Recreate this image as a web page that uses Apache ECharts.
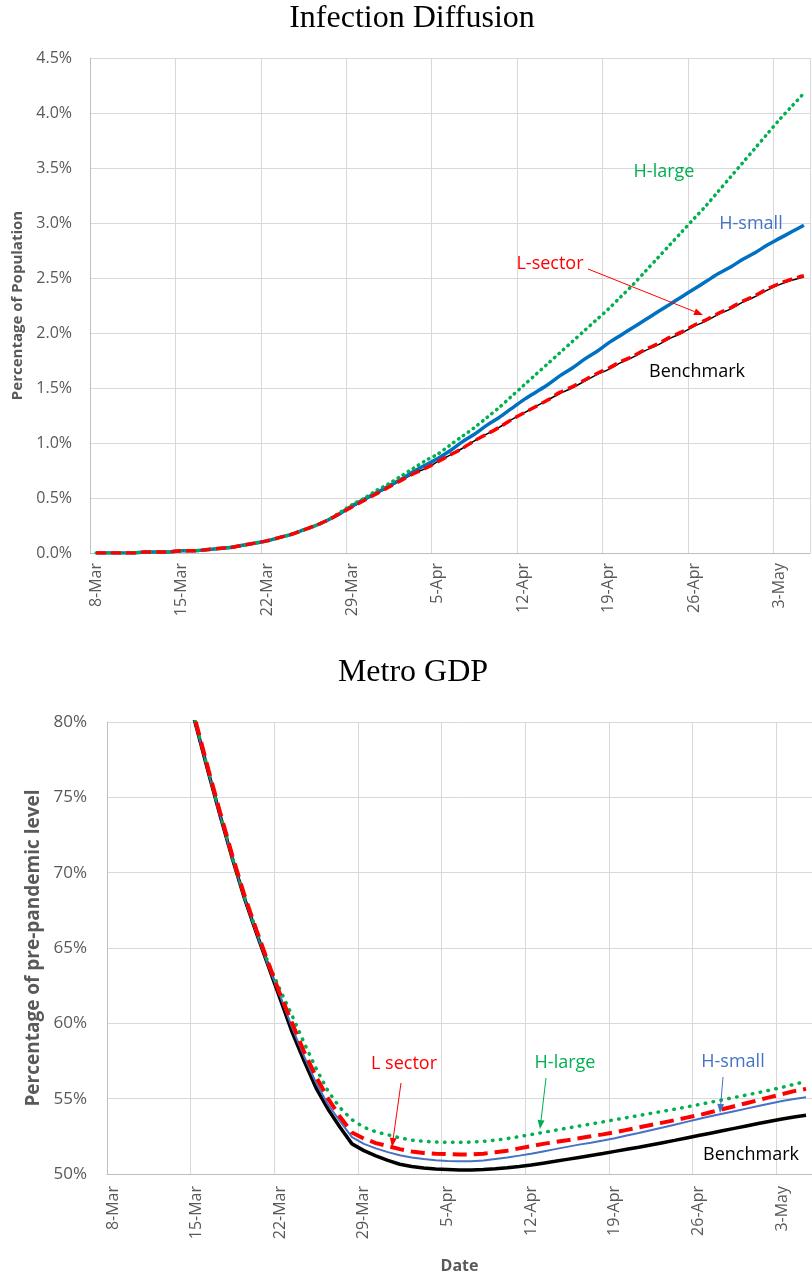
<!DOCTYPE html>
<html>
<head>
<meta charset="utf-8">
<script src="https://cdn.jsdelivr.net/npm/echarts@6.0.0/dist/echarts.min.js"></script>
<style>
  html, body { margin: 0; padding: 0; background: #fff; }
  #chart { width: 812px; height: 1279px; }
</style>
</head>
<body>
<div id="chart"></div>
<script>
// categories: one per day, 8-Mar .. 5-May
const dates = [
  '8-Mar','9-Mar','10-Mar','11-Mar','12-Mar','13-Mar','14-Mar',
  '15-Mar','16-Mar','17-Mar','18-Mar','19-Mar','20-Mar','21-Mar',
  '22-Mar','23-Mar','24-Mar','25-Mar','26-Mar','27-Mar','28-Mar',
  '29-Mar','30-Mar','31-Mar','1-Apr','2-Apr','3-Apr','4-Apr',
  '5-Apr','6-Apr','7-Apr','8-Apr','9-Apr','10-Apr','11-Apr',
  '12-Apr','13-Apr','14-Apr','15-Apr','16-Apr','17-Apr','18-Apr',
  '19-Apr','20-Apr','21-Apr','22-Apr','23-Apr','24-Apr','25-Apr',
  '26-Apr','27-Apr','28-Apr','29-Apr','30-Apr','1-May','2-May',
  '3-May','4-May','5-May'
];

// Infection diffusion, % of population
const infBenchmark = [
  0.00,0.00,0.00,0.00,0.01,0.01,0.01,
  0.02,0.02,0.03,0.04,0.05,0.07,0.09,
  0.11,0.14,0.17,0.21,0.25,0.30,0.36,
  0.42,0.48,0.54,0.60,0.66,0.72,0.77,
  0.83,0.89,0.95,1.02,1.08,1.14,1.21,
  1.27,1.33,1.39,1.45,1.50,1.56,1.62,
  1.67,1.73,1.78,1.84,1.89,1.95,2.00,
  2.06,2.11,2.17,2.22,2.28,2.33,2.39,
  2.44,2.48,2.51
];
const infLSector = [
  0.00,0.00,0.00,0.00,0.01,0.01,0.01,
  0.02,0.02,0.03,0.04,0.05,0.07,0.09,
  0.11,0.14,0.17,0.21,0.25,0.30,0.36,
  0.42,0.48,0.54,0.60,0.66,0.72,0.77,
  0.83,0.89,0.95,1.02,1.08,1.14,1.21,
  1.27,1.33,1.39,1.46,1.51,1.57,1.63,
  1.68,1.74,1.79,1.85,1.90,1.96,2.01,
  2.07,2.12,2.18,2.23,2.29,2.34,2.40,
  2.45,2.49,2.52
];
const infHSmall = [
  0.00,0.00,0.00,0.00,0.01,0.01,0.01,
  0.02,0.02,0.03,0.04,0.05,0.07,0.09,
  0.11,0.14,0.17,0.21,0.25,0.30,0.36,
  0.43,0.49,0.55,0.61,0.67,0.74,0.80,
  0.86,0.93,1.01,1.08,1.16,1.23,1.31,
  1.39,1.46,1.53,1.61,1.68,1.76,1.83,
  1.91,1.98,2.05,2.12,2.19,2.26,2.33,
  2.40,2.47,2.54,2.60,2.67,2.73,2.80,
  2.86,2.92,2.98
];
const infHLarge = [
  0.00,0.00,0.00,0.00,0.01,0.01,0.01,
  0.02,0.02,0.03,0.04,0.05,0.07,0.09,
  0.11,0.14,0.17,0.21,0.25,0.30,0.37,
  0.44,0.50,0.57,0.63,0.70,0.77,0.84,
  0.90,0.98,1.06,1.14,1.23,1.32,1.42,
  1.52,1.62,1.72,1.82,1.92,2.02,2.12,
  2.22,2.33,2.44,2.56,2.68,2.80,2.92,
  3.04,3.16,3.29,3.42,3.55,3.68,3.81,
  3.94,4.06,4.18
];

// Metro GDP, % of pre-pandemic level (values above 80% are cut by the axis)
const gdpBenchmark = [
  null,null,null,null,null,null,82.5,
  79.6,76.6,73.7,70.9,68.3,66.0,63.8,
  61.6,59.4,57.5,55.7,54.3,53.1,52.0,
  51.55,51.2,50.9,50.65,50.5,50.4,50.33,
  50.3,50.27,50.27,50.3,50.35,50.42,50.5,
  50.6,50.72,50.84,50.97,51.1,51.23,51.36,
  51.5,51.64,51.78,51.93,52.08,52.23,52.39,
  52.55,52.71,52.87,53.03,53.19,53.35,53.5,
  53.65,53.78,53.9
];
const gdpHSmall = [
  null,null,null,null,null,null,82.5,
  79.6,76.6,73.7,70.9,68.3,66.0,63.8,
  61.8,59.7,57.8,56.05,54.6,53.5,52.45,
  52.0,51.7,51.45,51.25,51.1,51.0,50.92,
  50.86,50.84,50.85,50.9,51.0,51.1,51.22,
  51.35,51.5,51.65,51.8,51.95,52.08,52.22,
  52.37,52.55,52.72,52.9,53.08,53.27,53.46,
  53.65,53.83,54.0,54.17,54.34,54.51,54.68,
  54.85,54.98,55.1
];
const gdpHLarge = [
  null,null,null,null,null,null,82.6,
  79.7,76.7,73.8,71.0,68.4,66.2,64.0,
  62.2,60.5,58.7,57.0,55.5,54.4,53.6,
  53.1,52.8,52.6,52.4,52.25,52.17,52.12,
  52.1,52.1,52.12,52.17,52.25,52.35,52.48,
  52.62,52.76,52.9,53.04,53.18,53.32,53.46,
  53.6,53.74,53.88,54.02,54.16,54.3,54.45,
  54.6,54.76,54.92,55.08,55.24,55.4,55.57,
  55.75,55.95,56.15
];
const gdpLSector = [
  null,null,null,null,null,null,82.7,
  79.8,76.8,73.9,71.1,68.5,66.2,64.0,
  61.9,60.0,58.1,56.45,55.0,53.8,52.75,
  52.35,52.05,51.85,51.65,51.5,51.4,51.35,
  51.32,51.3,51.3,51.35,51.45,51.55,51.7,
  51.85,52.0,52.12,52.24,52.37,52.5,52.63,
  52.77,52.93,53.09,53.25,53.41,53.57,53.74,
  53.9,54.1,54.3,54.5,54.7,54.9,55.1,
  55.3,55.5,55.65
];

const infTicks = [0, 4.5, 0.5];   // min, max, step
const gdpTicks = [50, 80, 5];

const FONT = 'Open Sans';
const GREY = '#595959';
const GREEN = '#00B050';
const RED = '#FF0000';

function arrow(x1, y1, x2, y2, color) {
  const a = Math.atan2(y2 - y1, x2 - x1), len = 9, w = 3.5;
  const bx = x2 - len * Math.cos(a), by = y2 - len * Math.sin(a);
  const px = -Math.sin(a) * w, py = Math.cos(a) * w;
  return [
    { type: 'line', z: 100, shape: { x1: x1, y1: y1, x2: bx, y2: by }, style: { stroke: color, lineWidth: 1 } },
    { type: 'polygon', z: 100, shape: { points: [[x2, y2], [bx + px, by + py], [bx - px, by - py]] }, style: { fill: color } }
  ];
}
function note(text, x, y, color, size, family) {
  return {
    type: 'text', z: 100, x: x, y: y,
    style: { text: text, fill: color, fontSize: size, fontFamily: family || FONT, align: 'center', verticalAlign: 'middle' }
  };
}

function catAxis(gridIndex, extra) {
  return Object.assign({
    type: 'category', gridIndex: gridIndex, data: dates, boundaryGap: true,
    axisLine: { lineStyle: { color: '#BFBFBF' } },
    axisTick: { interval: 6, length: 5, lineStyle: { color: '#BFBFBF' } },
    splitLine: { show: true, interval: 6, lineStyle: { color: '#D9D9D9' } },
    axisLabel: { interval: 6, rotate: 90, color: GREY, fontFamily: FONT, fontSize: 16, margin: 10 }
  }, extra || {});
}
function valAxis(gridIndex, t, fmt, extra) {
  return Object.assign({
    type: 'value', gridIndex: gridIndex, min: t[0], max: t[1], interval: t[2],
    axisLine: { show: true, lineStyle: { color: '#BFBFBF' } },
    axisTick: { show: false },
    splitLine: { lineStyle: { color: '#D9D9D9' } },
    axisLabel: { color: GREY, fontFamily: FONT, fontSize: 16, margin: 18, formatter: fmt }
  }, extra || {});
}
function line(name, data, axis, color, width, dash, z, smooth) {
  return {
    name: name, type: 'line', data: data, xAxisIndex: axis, yAxisIndex: axis,
    showSymbol: false, symbol: 'none', z: z, clip: true, smooth: smooth || false,
    lineStyle: { color: color, width: width, type: dash || 'solid', cap: Array.isArray(dash) && dash[0] < 1 ? 'round' : 'butt' }
  };
}

const chart = echarts.init(document.getElementById('chart'), null, { renderer: 'canvas' });

chart.setOption({
  animation: false,
  backgroundColor: '#fff',
  grid: [
    { left: 90, top: 58, width: 720, height: 495 },
    { left: 107, top: 722, width: 710, height: 452 }
  ],
  xAxis: [
    catAxis(0),
    catAxis(1, {
      name: 'Date', nameLocation: 'middle', nameGap: 84,
      nameTextStyle: { fontFamily: FONT, fontWeight: 'bold', fontSize: 16, color: GREY },
      axisLabel: { interval: 6, rotate: 90, color: GREY, fontFamily: FONT, fontSize: 16, margin: 12 }
    })
  ],
  yAxis: [
    valAxis(0, infTicks, v => v.toFixed(1) + '%', {
      name: 'Percentage of Population', nameLocation: 'middle', nameGap: 63,
      nameTextStyle: { fontFamily: FONT, fontWeight: 'bold', fontSize: 15, color: GREY }
    }),
    valAxis(1, gdpTicks, v => v + '%', {
      name: 'Percentage of pre-pandemic level', nameLocation: 'middle', nameGap: 64,
      nameTextStyle: { fontFamily: FONT, fontWeight: 'bold', fontSize: 19, color: GREY },
      axisLabel: { color: GREY, fontFamily: FONT, fontSize: 17, margin: 20, formatter: v => v + '%' }
    })
  ],
  series: [
    line('Benchmark', infBenchmark, 0, '#000', 1.5, null, 2, 0.3),
    line('H-small', infHSmall, 0, '#0070C0', 3.5, null, 3, 0.3),
    line('H-large', infHLarge, 0, GREEN, 3.5, [0.5, 5.5], 4, 0.3),
    line('L-sector', infLSector, 0, RED, 3.5, [10, 5], 5, 0.3),

    line('Benchmark', gdpBenchmark, 1, '#000', 3.5, null, 2),
    line('H-small', gdpHSmall, 1, '#4472C4', 2, null, 3),
    line('H-large', gdpHLarge, 1, GREEN, 3.5, [0.5, 7.5], 4),
    line('L sector', gdpLSector, 1, RED, 4, [14, 7], 5)
  ],
  graphic: [
    note('Infection Diffusion', 412, 19, '#000', 32, 'Liberation Serif'),
    note('Metro GDP', 413, 673, '#000', 32, 'Liberation Serif'),

    note('H-large', 664, 172, GREEN, 18),
    note('H-small', 751, 224, '#4472C4', 18),
    note('L-sector', 550, 264, RED, 18),
    note('Benchmark', 697, 372, '#000', 18),
    ...arrow(588, 269, 703, 315, RED),

    note('L sector', 404, 1064, RED, 18),
    ...arrow(401, 1083, 392, 1147, RED),
    note('H-large', 565, 1063, GREEN, 18),
    ...arrow(546, 1078, 540, 1129, GREEN),
    note('H-small', 733, 1062, '#4472C4', 18),
    ...arrow(723, 1077, 720, 1113, '#4472C4'),
    note('Benchmark', 751, 1155, '#000', 18)
  ]
});
</script>
</body>
</html>
